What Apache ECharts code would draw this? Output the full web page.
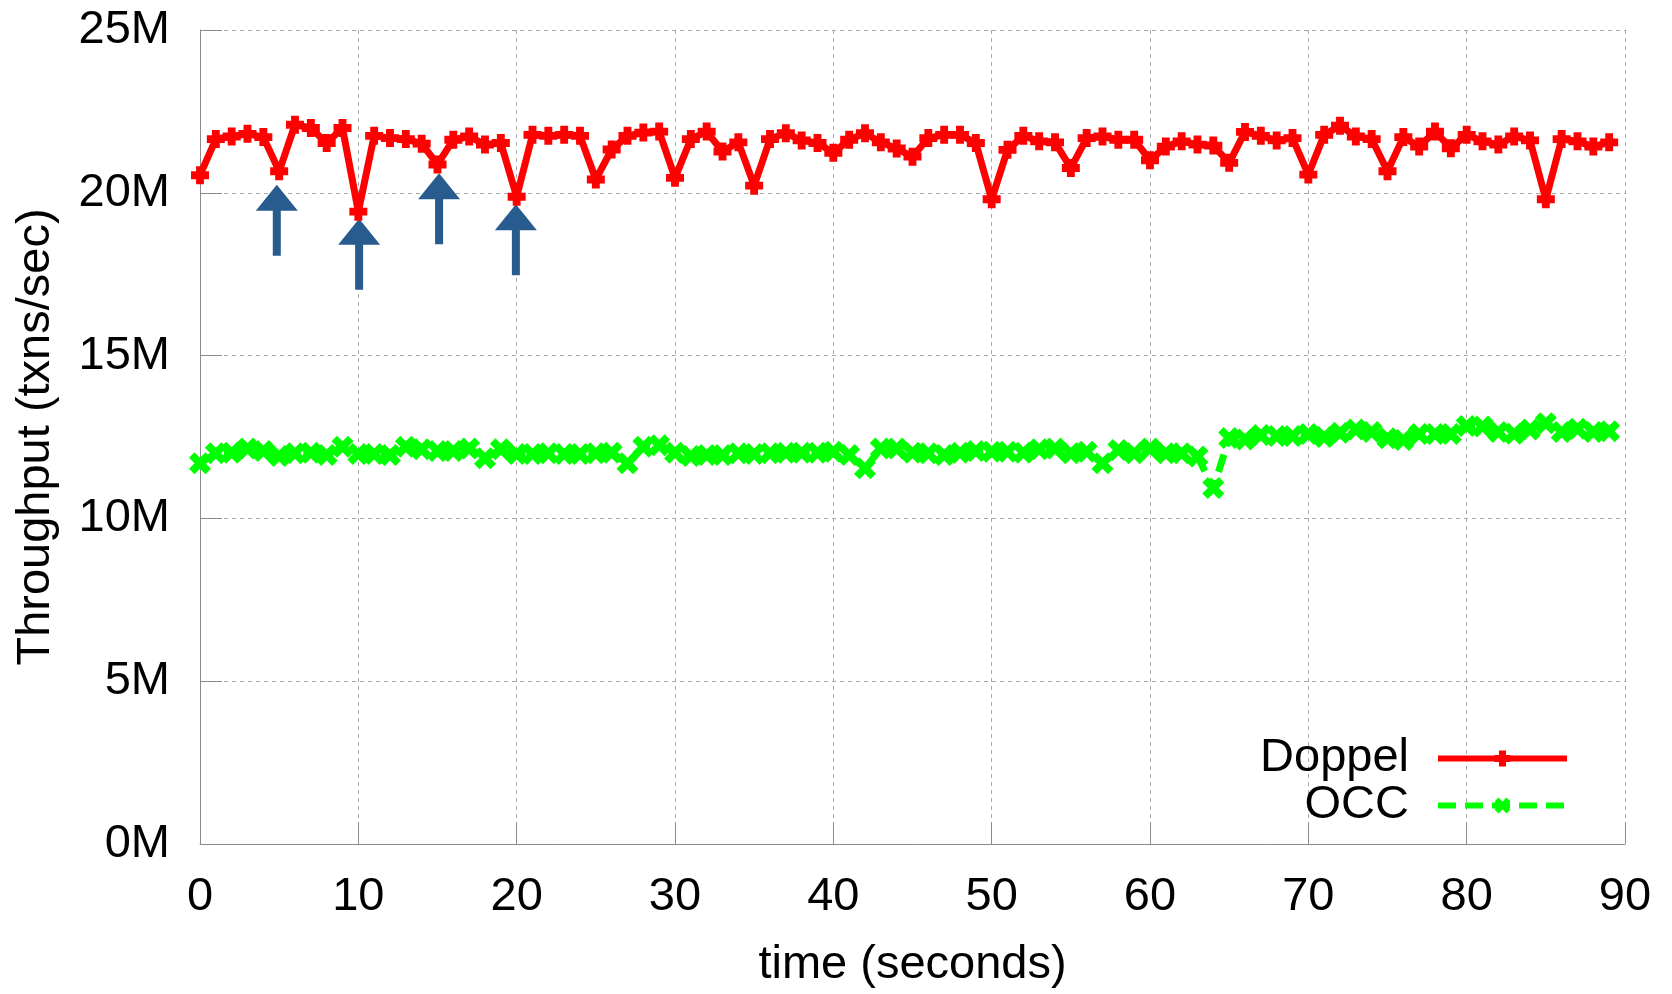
<!DOCTYPE html>
<html>
<head>
<meta charset="utf-8">
<script src="https://cdn.jsdelivr.net/npm/echarts@6/dist/echarts.min.js"></script>
<style>
html,body{margin:0;padding:0;background:#fff;}
#chart{width:1672px;height:994px;}
</style>
</head>
<body>
<div id="chart"></div>
<script>
// time (seconds)
const seconds = [0,1,2,3,4,5,6,7,8,9,10,11,12,13,14,15,16,17,18,19,20,21,22,23,24,25,26,27,28,29,
  30,31,32,33,34,35,36,37,38,39,40,41,42,43,44,45,46,47,48,49,50,51,52,53,54,55,56,57,58,59,
  60,61,62,63,64,65,66,67,68,69,70,71,72,73,74,75,76,77,78,79,80,81,82,83,84,85,86,87,88,89];

// Throughput in millions of txns/sec
const doppel = [
  20.54, 21.65, 21.73, 21.81, 21.71, 20.66, 22.09, 21.99, 21.53, 21.99,
  19.42, 21.75, 21.68, 21.65, 21.51, 20.87, 21.63, 21.73, 21.48, 21.53,
  19.88, 21.78, 21.75, 21.78, 21.75, 20.41, 21.33, 21.75, 21.85, 21.88,
  20.46, 21.65, 21.88, 21.27, 21.55, 20.22, 21.65, 21.83, 21.61, 21.53,
  21.23, 21.63, 21.83, 21.55, 21.36, 21.11, 21.68, 21.78, 21.78, 21.53,
  19.80, 21.32, 21.75, 21.58, 21.55, 20.76, 21.68, 21.73, 21.63, 21.63,
  21.00, 21.42, 21.58, 21.48, 21.45, 20.92, 21.87, 21.75, 21.61, 21.68,
  20.56, 21.78, 22.06, 21.73, 21.65, 20.66, 21.71, 21.42, 21.88, 21.37,
  21.78, 21.58, 21.48, 21.73, 21.61, 19.80, 21.65, 21.58, 21.42, 21.55
];
const occ = [
  11.69, 12.00, 12.02, 12.15, 12.07, 11.92, 12.00, 12.02, 11.95, 12.20,
  11.98, 11.98, 11.95, 12.20, 12.12, 12.07, 12.07, 12.15, 11.85, 12.12,
  11.98, 11.98, 12.00, 11.98, 11.98, 12.00, 12.02, 11.69, 12.20, 12.25,
  12.02, 11.92, 11.95, 11.95, 12.00, 11.98, 12.00, 12.02, 12.02, 12.02,
  12.05, 11.95, 11.54, 12.15, 12.15, 12.02, 12.00, 11.95, 12.02, 12.07,
  12.05, 12.05, 12.02, 12.12, 12.15, 12.00, 12.05, 11.69, 12.10, 12.00,
  12.15, 12.00, 12.00, 11.90, 10.93, 12.47, 12.42, 12.56, 12.53, 12.53,
  12.59, 12.50, 12.63, 12.73, 12.65, 12.46, 12.41, 12.59, 12.59, 12.59,
  12.84, 12.82, 12.65, 12.60, 12.73, 12.92, 12.65, 12.75, 12.65, 12.68
];

// annotation arrows: x position and value at arrow tip (M)
const arrowX = [4.85, 10.05, 15.1, 19.95];
const arrowTip = [20.25, 19.2, 20.6, 19.65];

const seriesNames = ['Doppel', 'OCC'];
const yTicks = [0, 5, 10, 15, 20, 25];
const xTicks = [0, 10, 20, 30, 40, 50, 60, 70, 80, 90];

const FONT = '"Liberation Sans", Arial, sans-serif';
const plusSym = 'path://M4.5,0 H11.5 V4.5 H16 V11.5 H11.5 V16 H4.5 V11.5 H0 V4.5 H4.5 Z';
const xSym = 'path://M0,4 L4,0 L8,4 L12,0 L16,4 L12,8 L16,12 L12,16 L8,12 L4,16 L0,12 L4,8 Z';

const chart = echarts.init(document.getElementById('chart'));
chart.setOption({
  animation: false,
  backgroundColor: '#ffffff',
  grid: { left: 200, right: 47, top: 30, bottom: 146 },
  xAxis: {
    type: 'value', min: xTicks[0], max: xTicks[xTicks.length - 1], interval: 10,
    name: 'time (seconds)', nameLocation: 'middle', nameGap: 98,
    nameTextStyle: { fontSize: 47, fontFamily: FONT, color: '#000' },
    axisLine: { show: true, lineStyle: { color: '#8c8c8c', width: 1 } },
    axisTick: { show: true, inside: true, length: 22, lineStyle: { color: '#8c8c8c' } },
    axisLabel: { fontSize: 47, fontFamily: FONT, color: '#000', margin: 30 },
    splitLine: { show: true, lineStyle: { color: '#a8a8a8', type: [4, 4], width: 1 } }
  },
  yAxis: {
    type: 'value', min: yTicks[0], max: yTicks[yTicks.length - 1], interval: 5,
    name: 'Throughput (txns/sec)', nameLocation: 'middle', nameGap: 140, nameRotate: 90,
    nameTextStyle: { fontSize: 47, fontFamily: FONT, color: '#000' },
    axisLine: { show: true, lineStyle: { color: '#8c8c8c', width: 1 } },
    axisTick: { show: true, inside: true, length: 22, lineStyle: { color: '#8c8c8c' } },
    axisLabel: { fontSize: 47, fontFamily: FONT, color: '#000', margin: 30, formatter: '{value}M' },
    splitLine: { show: true, lineStyle: { color: '#a8a8a8', type: [4, 4], width: 1 } }
  },
  legend: {
    orient: 'vertical', right: 102, top: 735, align: 'right',
    itemWidth: 129, itemHeight: 20, itemGap: 0, padding: 0,
    data: seriesNames,
    lineStyle: { width: 6 },
    textStyle: { fontSize: 47, fontFamily: FONT, color: '#000', lineHeight: 47, padding: [0, 24, 0, 0] }
  },
  series: [
    {
      name: 'Custom arrows', type: 'custom', z: 1, clip: false, silent: true,
      data: arrowX.map((x, i) => [x, arrowTip[i]]),
      encode: { x: 0, y: 1 },
      renderItem: function (params, api) {
        const p = api.coord([api.value(0), api.value(1)]);
        const tx = p[0], ty = p[1];
        return {
          type: 'polygon',
          shape: { points: [
            [tx, ty], [tx + 21, ty + 26], [tx + 4, ty + 26], [tx + 4, ty + 71],
            [tx - 4, ty + 71], [tx - 4, ty + 26], [tx - 21, ty + 26]
          ] },
          style: { fill: '#285c8f' }
        };
      }
    },
    {
      name: seriesNames[0], type: 'line', z: 3, clip: false,
      data: seconds.map((s, i) => [s, doppel[i]]),
      symbol: plusSym, symbolSize: 18, showSymbol: true,
      itemStyle: { color: '#ff0000' },
      lineStyle: { color: '#ff0000', width: 7 }
    },
    {
      name: seriesNames[1], type: 'line', z: 2, clip: false,
      data: seconds.map((s, i) => [s, occ[i]]),
      symbol: xSym, symbolSize: 22, showSymbol: true,
      itemStyle: { color: '#00ff00' },
      lineStyle: { color: '#00ff00', width: 7, type: [18, 9] }
    }
  ]
});
</script>
</body>
</html>
